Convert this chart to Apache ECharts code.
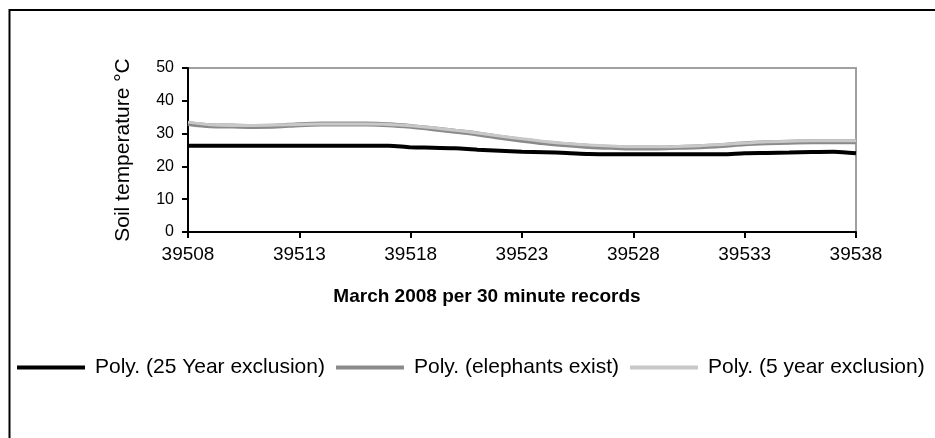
<!DOCTYPE html>
<html>
<head>
<meta charset="utf-8">
<script src="https://cdn.jsdelivr.net/npm/echarts@6/dist/echarts.min.js"></script>
<style>
  html, body { margin: 0; padding: 0; background: #fff; }
  #chart { width: 935px; height: 438px; }
</style>
</head>
<body>
<div id="chart"></div>
<script>
// Excel day serials for March 2008
const days = [39508, 39509, 39510, 39511, 39512, 39513, 39514, 39515, 39516, 39517,
              39518, 39519, 39520, 39521, 39522, 39523, 39524, 39525, 39526, 39527,
              39528, 39529, 39530, 39531, 39532, 39533, 39534, 39535, 39536, 39537, 39538];

// Polynomial trend lines of soil temperature (°C)
const exclusion25 = [26.3, 26.3, 26.3, 26.3, 26.3, 26.3, 26.3, 26.3, 26.3, 26.3,
                     25.8, 25.7, 25.5, 25.1, 24.8, 24.5, 24.3, 24.1, 23.8, 23.7,
                     23.7, 23.7, 23.7, 23.7, 23.7, 24.0, 24.1, 24.2, 24.4, 24.5, 24.0];
const elephantsExist = [33.1, 32.4, 32.3, 32.2, 32.3, 32.7, 32.9, 32.9, 32.9, 32.7,
                        32.2, 31.5, 30.7, 29.9, 28.9, 28.0, 27.2, 26.6, 26.1, 25.8,
                        25.6, 25.6, 25.8, 26.0, 26.4, 26.9, 27.2, 27.4, 27.5, 27.5, 27.5];
const exclusion5 = [33.5, 32.7, 32.5, 32.5, 32.6, 32.8, 32.9, 32.9, 32.9, 32.8,
                    32.4, 31.8, 31.0, 30.2, 29.3, 28.4, 27.6, 27.0, 26.5, 26.2,
                    26.0, 26.0, 26.1, 26.3, 26.7, 27.1, 27.5, 27.7, 27.8, 27.8, 27.8];

const yTicks = { min: 0, max: 50, step: 10 };

const chart = echarts.init(document.getElementById('chart'), null, { renderer: 'canvas' });

const font = 'Arial, "Liberation Sans", sans-serif';

chart.setOption({
  animation: false,
  backgroundColor: '#fff',
  graphic: [{
    type: 'rect',
    shape: { x: 9.5, y: 10, width: 1000, height: 1000 },
    style: { fill: 'none', stroke: '#000', lineWidth: 2 },
    silent: true
  }],
  grid: {
    left: 188, top: 68, right: 79, bottom: 206,
    show: true, borderColor: '#a0a0a0', borderWidth: 2, backgroundColor: '#fff'
  },
  legend: {
    left: 12, top: 352,
    icon: 'rect',
    itemWidth: 68, itemHeight: 4, itemGap: 11,
    textStyle: { fontFamily: font, fontSize: 21, color: '#000', padding: [0, 0, 0, 5] },
    data: ['Poly. (25 Year exclusion)', 'Poly. (elephants exist)', 'Poly. (5 year exclusion)']
  },
  xAxis: {
    type: 'category',
    data: days,
    boundaryGap: false,
    name: 'March 2008 per 30 minute records',
    nameLocation: 'middle',
    nameGap: 55,
    nameTextStyle: { fontFamily: font, fontSize: 19, fontWeight: 'bold', color: '#000', padding: [0, 70, 0, 0] },
    axisLine: { lineStyle: { color: '#000', width: 2 } },
    axisTick: { interval: 4, length: 6, lineStyle: { color: '#000', width: 2 } },
    axisLabel: { interval: 4, margin: 13, fontFamily: font, fontSize: 19, color: '#000' },
    splitLine: { show: false }
  },
  yAxis: {
    type: 'value',
    min: yTicks.min, max: yTicks.max, interval: yTicks.step,
    name: 'Soil temperature °C',
    nameLocation: 'middle',
    nameGap: 54,
    nameTextStyle: { fontFamily: font, fontSize: 21, color: '#000' },
    axisLine: { show: true, lineStyle: { color: '#000', width: 2 } },
    axisTick: { show: true, length: 6, lineStyle: { color: '#000', width: 2 } },
    axisLabel: { margin: 14, fontFamily: font, fontSize: 16, color: '#000' },
    splitLine: { show: false }
  },
  series: [
    {
      name: 'Poly. (25 Year exclusion)', type: 'line', data: exclusion25,
      smooth: 0.3, symbol: 'none', color: '#000',
      lineStyle: { color: '#000', width: 4 }
    },
    {
      name: 'Poly. (elephants exist)', type: 'line', data: elephantsExist,
      smooth: 0.3, symbol: 'none', color: '#8a8a8a',
      lineStyle: { color: '#8a8a8a', width: 5 }
    },
    {
      name: 'Poly. (5 year exclusion)', type: 'line', data: exclusion5,
      smooth: 0.3, symbol: 'none', color: '#c8c8c8',
      lineStyle: { color: '#c8c8c8', width: 3 }
    }
  ]
});
</script>
</body>
</html>
